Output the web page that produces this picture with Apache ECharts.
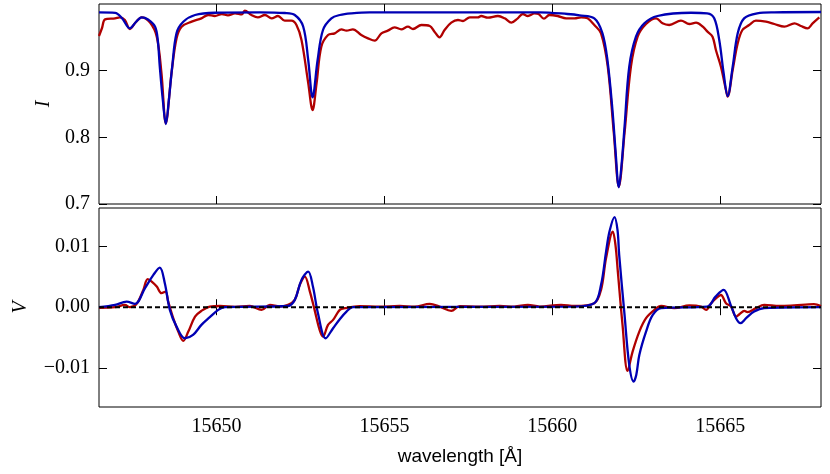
<!DOCTYPE html>
<html>
<head>
<meta charset="utf-8">
<script src="https://cdn.jsdelivr.net/npm/echarts@6/dist/echarts.min.js"></script>
<style>
    html, body { margin: 0; padding: 0; background: #fff; }
    #chart { width: 830px; height: 474px; }
</style>
</head>
<body>
<div id="chart"></div>
<script>
// tick positions
let waveTicks = [15650, 15655, 15660, 15665];
let iTicks = [0.7, 0.8, 0.9];
let vTicks = [-0.01, 0, 0.01];

// Stokes I, observed (red)
let obsIWave = [15646.50, 15646.59, 15646.68, 15646.98, 15647.12, 15647.27, 15647.42, 15647.60, 15647.77, 15648.02,
    15648.22, 15648.36, 15648.49, 15648.66, 15648.81, 15648.96, 15649.26, 15649.55, 15649.75, 15649.95,
    15650.16, 15650.34, 15650.55, 15650.75, 15650.84, 15651.04, 15651.23, 15651.44, 15651.64, 15651.83,
    15652.03, 15652.23, 15652.38, 15652.53, 15652.73, 15652.86, 15652.98, 15653.12, 15653.32, 15653.52,
    15653.72, 15653.87, 15654.06, 15654.31, 15654.51, 15654.71, 15654.91, 15655.10, 15655.30, 15655.50,
    15655.70, 15655.85, 15656.10, 15656.35, 15656.49, 15656.64, 15656.79, 15656.99, 15657.19, 15657.34,
    15657.54, 15657.78, 15657.88, 15658.08, 15658.38, 15658.58, 15658.78, 15658.97, 15659.12, 15659.27,
    15659.47, 15659.59, 15659.75, 15659.91, 15660.16, 15660.41, 15660.66, 15660.86, 15661.05, 15661.25,
    15661.45, 15661.65, 15661.83, 15661.98, 15662.15, 15662.34, 15662.54, 15662.79, 15663.09, 15663.28,
    15663.48, 15663.83, 15664.08, 15664.28, 15664.48, 15664.62, 15664.77, 15664.87, 15665.02, 15665.17,
    15665.22, 15665.37, 15665.52, 15665.66, 15665.86, 15666.06, 15666.36, 15666.61, 15666.91, 15667.21,
    15667.40, 15667.60, 15667.75, 15667.95];
let obsI = [0.952, 0.964, 0.977, 0.9785, 0.980, 0.976, 0.9625, 0.973, 0.980, 0.972,
    0.951, 0.8965, 0.821, 0.8965, 0.9485, 0.966, 0.9735, 0.9785, 0.9835, 0.982,
    0.985, 0.983, 0.986, 0.9843, 0.990, 0.9835, 0.980, 0.9835, 0.9785, 0.982,
    0.975, 0.975, 0.9685, 0.946, 0.8815, 0.841, 0.8815, 0.936, 0.9535, 0.956,
    0.962, 0.960, 0.962, 0.9535, 0.9485, 0.945, 0.956, 0.960, 0.965, 0.962,
    0.966, 0.9625, 0.9685, 0.967, 0.9585, 0.950, 0.961, 0.972, 0.976, 0.9745,
    0.980, 0.980, 0.982, 0.9795, 0.982, 0.9785, 0.972, 0.9785, 0.985, 0.982,
    0.986, 0.985, 0.978, 0.9835, 0.982, 0.9785, 0.9785, 0.980, 0.9785, 0.9685,
    0.956, 0.906, 0.8065, 0.726, 0.8065, 0.906, 0.951, 0.970, 0.9785, 0.971,
    0.9685, 0.975, 0.970, 0.972, 0.966, 0.9585, 0.951, 0.931, 0.906, 0.871,
    0.861, 0.901, 0.941, 0.961, 0.9685, 0.975, 0.9735, 0.970, 0.966, 0.971,
    0.967, 0.9635, 0.971, 0.980];

// Stokes I, synthetic (blue)
let modIWave = [15646.50, 15646.98, 15647.18, 15647.42, 15647.60, 15647.77, 15647.96, 15648.17, 15648.25, 15648.31,
    15648.40, 15648.49, 15648.58, 15648.68, 15648.81, 15649.01, 15649.36, 15649.95, 15651.29, 15652.03,
    15652.33, 15652.58, 15652.73, 15652.86, 15653.01, 15653.17, 15653.42, 15653.67, 15654.02, 15654.56,
    15656.94, 15659.62, 15660.45, 15660.81, 15661.25, 15661.49, 15661.64, 15661.79, 15661.88, 15661.98,
    15662.06, 15662.15, 15662.29, 15662.49, 15662.74, 15663.13, 15664.13, 15664.61, 15664.82, 15664.97,
    15665.10, 15665.22, 15665.37, 15665.52, 15665.71, 15666.10, 15666.61, 15668.00];
let modI = [0.9875, 0.9868, 0.979, 0.9635, 0.973, 0.980, 0.9768, 0.966, 0.946, 0.906,
    0.856, 0.820, 0.856, 0.906, 0.9565, 0.9734, 0.9835, 0.9869, 0.9875, 0.9865,
    0.9835, 0.9662, 0.916, 0.860, 0.916, 0.961, 0.9785, 0.9835, 0.986, 0.9875,
    0.9875, 0.9875, 0.985, 0.983, 0.9785, 0.9565, 0.916, 0.841, 0.781, 0.725,
    0.7585, 0.816, 0.906, 0.951, 0.971, 0.982, 0.9869, 0.986, 0.9785, 0.946,
    0.8965, 0.862, 0.906, 0.956, 0.9785, 0.986, 0.9875, 0.988];

// Stokes V, observed (red)
let obsVWave = [15646.50, 15646.98, 15647.27, 15647.42, 15647.62, 15647.82, 15647.95, 15648.07, 15648.22, 15648.36,
    15648.48, 15648.56, 15648.71, 15648.86, 15649.01, 15649.16, 15649.36, 15649.55, 15649.80, 15650.10,
    15650.55, 15650.99, 15651.34, 15651.59, 15651.88, 15652.13, 15652.33, 15652.48, 15652.63, 15652.78,
    15652.92, 15653.07, 15653.17, 15653.32, 15653.47, 15653.67, 15653.82, 15654.26, 15654.86, 15655.45,
    15655.90, 15656.35, 15656.64, 15656.99, 15657.24, 15657.83, 15658.43, 15658.87, 15659.27, 15659.62,
    15660.26, 15660.66, 15661.25, 15661.45, 15661.60, 15661.80, 15661.88, 15661.95, 15662.09, 15662.24,
    15662.39, 15662.59, 15662.79, 15663.04, 15663.24, 15663.63, 15664.08, 15664.43, 15664.58, 15664.73,
    15664.88, 15665.02, 15665.17, 15665.32, 15665.47, 15665.57, 15665.72, 15665.81, 15666.06, 15666.31,
    15666.76, 15667.20, 15667.79, 15668.00];
let obsV = [-0.0001, 0, 0.00038, 0, 0.00054, 0.00285, 0.0046, 0.00421, 0.00339, 0.0023,
    0.00257, 0.00092, -0.00181, -0.00401, -0.00554, -0.00401, -0.00155, -0.00061, 0.0001, 0.0002,
    0.00005, 0.0002, -0.00044, 0.00038, 0.0001, 0.00038, 0.0012, 0.00367, 0.00503, 0.00257,
    -0.00044, -0.00373, -0.00484, -0.00291, -0.00209, -0.00044, -0.00016, 0.00016, 0.0001, 0.0002,
    0.0001, 0.00054, 0.0001, -0.00061, 0.00016, 0.0001, 0.0002, 0.0001, 0.00038, 0.0001,
    0.00038, 0.0002, 0.00066, 0.00285, 0.00806, 0.01243, 0.0102, 0.00586, -0.00291, -0.01048,
    -0.0073, -0.00401, -0.00181, -0.00044, 0.0002, -0.00016, 0.0003, 0.0001, -0.00044, 0.00066,
    0.00148, 0.002, 0.00066, 0.0001, -0.00155, -0.00115, -0.00061, -0.00082, -0.00016, 0.00038,
    0.0002, 0.0003, 0.0005, 0.0002];

// Stokes V, synthetic (blue)
let modVWave = [15646.50, 15646.98, 15647.32, 15647.57, 15647.87, 15648.12, 15648.31, 15648.46, 15648.61, 15648.81,
    15649.06, 15649.30, 15649.55, 15649.80, 15650.05, 15650.25, 15652.13, 15652.33, 15652.53, 15652.73,
    15652.87, 15653.02, 15653.25, 15653.47, 15653.67, 15653.87, 15654.06, 15660.66, 15661.25, 15661.45,
    15661.60, 15661.70, 15661.85, 15661.94, 15661.99, 15662.15, 15662.29, 15662.42, 15662.50, 15662.59,
    15662.79, 15662.99, 15663.24, 15664.61, 15664.86, 15665.10, 15665.31, 15665.47, 15665.60, 15665.77,
    15666.01, 15666.31, 15668.00];
let modV = [0, 0.00038, 0.00092, 0.00054, 0.00313, 0.00531, 0.00651, 0.00395, -0.00044, -0.00319,
    -0.0051, -0.00456, -0.00291, -0.00164, -0.00044, 0, 0.0002, 0.0012, 0.00449, 0.00586,
    0.00339, -0.00099, -0.0051, -0.00345, -0.00197, -0.00072, 0, 0.0001, 0.00066, 0.00367,
    0.00914, 0.0124, 0.0148, 0.0127, 0.0086, -0.00127, -0.00949, -0.01224, -0.0111, -0.00785,
    -0.00401, -0.00127, -0.00016, 0.0001, 0.00174, 0.00285, 0.00038, -0.00181, -0.00263, -0.00181,
    -0.00072, -0.00016, 0];

let zeroWave = [15646.5, 15668];
let zeroV = [0, 0];

function pairs(xs, ys) {
    return xs.map((x, i) => [x, ys[i]]);
}

let serif = 'Liberation Serif';
let red = '#b00000';
let blue = '#0000b4';

function xAxisOf(grid, pos, labels) {
    return {
        type: 'value', gridIndex: grid, position: pos,
        min: 15646.5, max: 15668,
        axisLine: { show: false },
        axisTick: { show: true, inside: true, length: 8, customValues: waveTicks, lineStyle: { color: '#000', width: 1 } },
        axisLabel: { show: labels, customValues: waveTicks, margin: 10, fontFamily: serif, fontSize: 20, color: '#000', formatter: v => String(v) },
        splitLine: { show: false },
        name: labels ? 'wavelength [Å]' : '',
        nameLocation: 'middle', nameGap: 40,
        nameTextStyle: { fontFamily: 'Liberation Sans', fontSize: 19, color: '#000' }
    };
}

function yAxisOf(grid, pos, labels, min, max, ticks, fmt, name, gap) {
    return {
        type: 'value', gridIndex: grid, position: pos,
        min: min, max: max,
        axisLine: { show: false },
        axisTick: { show: true, inside: true, length: 8, customValues: ticks, lineStyle: { color: '#000', width: 1 } },
        axisLabel: { show: labels, customValues: ticks, margin: 9, fontFamily: serif, fontSize: 20, color: '#000', formatter: fmt },
        splitLine: { show: false },
        name: labels ? name : '',
        nameLocation: 'middle', nameGap: gap, nameRotate: 90,
        nameTextStyle: { fontFamily: serif, fontStyle: 'italic', fontSize: 20, color: '#000' }
    };
}

let fmtI = v => v.toFixed(1);
let fmtV = v => (v < 0 ? '\u2212' : '') + Math.abs(v).toFixed(2);

let myChart = echarts.init(document.getElementById('chart'), null, { renderer: 'canvas' });
let option = {
    animation: false,
    backgroundColor: '#fff',
    grid: [
        { left: 99, right: 9, top: 4, height: 200, show: true, borderColor: '#000', borderWidth: 1, backgroundColor: 'transparent', containLabel: false, outerBoundsMode: 'none' },
        { left: 99, right: 9, top: 208, height: 199, show: true, borderColor: '#000', borderWidth: 1, backgroundColor: 'transparent', containLabel: false, outerBoundsMode: 'none' }
    ],
    xAxis: [
        xAxisOf(0, 'bottom', false),
        xAxisOf(0, 'top', false),
        xAxisOf(1, 'bottom', true),
        xAxisOf(1, 'top', false)
    ],
    yAxis: [
        yAxisOf(0, 'left', true, 0.7, 1.0, iTicks, fmtI, 'I', 45),
        yAxisOf(0, 'right', false, 0.7, 1.0, iTicks, fmtI, '', 0),
        yAxisOf(1, 'left', true, -0.0164, 0.0163, vTicks, fmtV, 'V', 68),
        yAxisOf(1, 'right', false, -0.0164, 0.0163, vTicks, fmtV, '', 0)
    ],
    series: [
        { name: 'obs I', type: 'line', xAxisIndex: 0, yAxisIndex: 0, data: pairs(obsIWave, obsI), showSymbol: false, smooth: 0.35, lineStyle: { color: red, width: 2.3 } },
        { name: 'syn I', type: 'line', xAxisIndex: 0, yAxisIndex: 0, data: pairs(modIWave, modI), showSymbol: false, smooth: 0.35, lineStyle: { color: blue, width: 2.3 } },
        { name: 'obs V', type: 'line', xAxisIndex: 2, yAxisIndex: 2, data: pairs(obsVWave, obsV), showSymbol: false, smooth: 0.35, lineStyle: { color: red, width: 2.3 } },
        { name: 'syn V', type: 'line', xAxisIndex: 2, yAxisIndex: 2, data: pairs(modVWave, modV), showSymbol: false, smooth: 0.35, lineStyle: { color: blue, width: 2.3 } },
        { name: 'zero', type: 'line', xAxisIndex: 2, yAxisIndex: 2, data: pairs(zeroWave, zeroV), showSymbol: false, lineStyle: { color: '#000', width: 2, type: [5, 3] }, z: 5 }
    ]
};
myChart.setOption(option);
</script>
</body>
</html>
